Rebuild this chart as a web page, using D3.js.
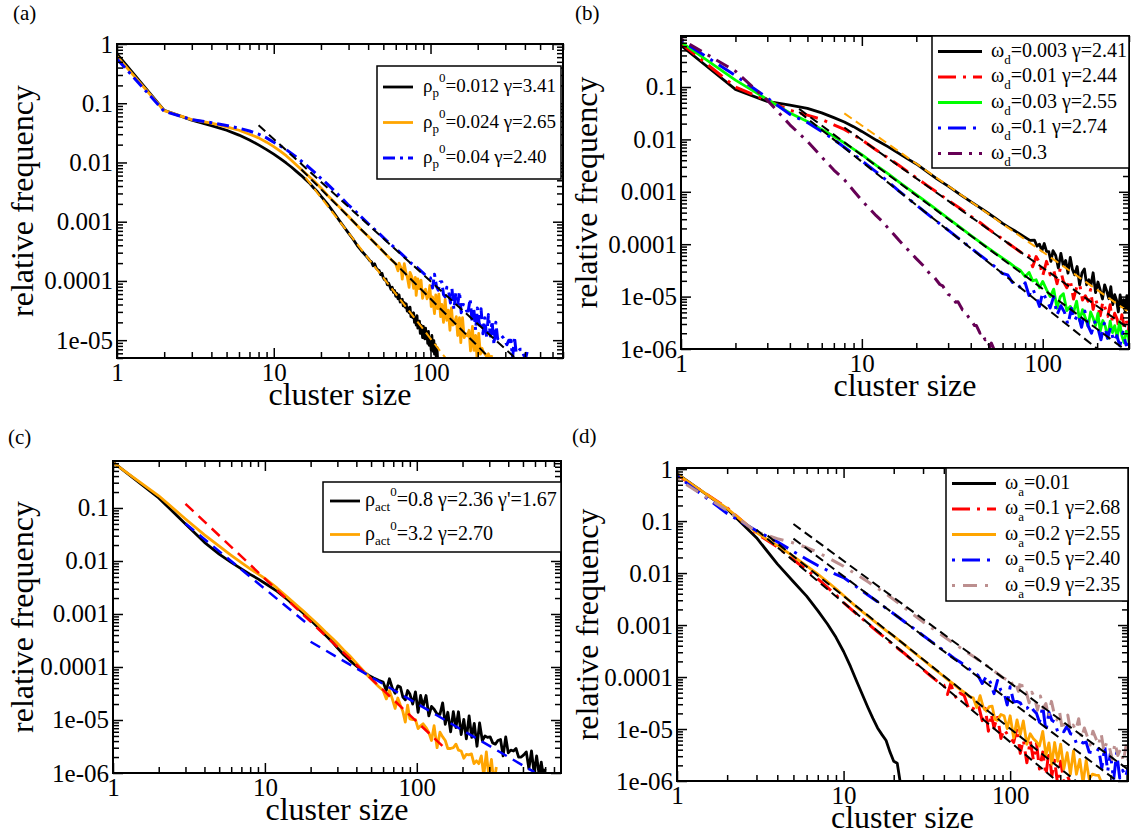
<!DOCTYPE html>
<html>
<head>
<meta charset="utf-8">
<script src="https://cdn.jsdelivr.net/npm/d3@7"></script>
<style>
  body { margin: 0; background: #fff; }
  svg { display: block; }
  svg text { font-family: 'Liberation Serif', 'Times New Roman', 'DejaVu Serif', serif; }
</style>
</head>
<body>
<svg id="fig" width="1132" height="837"></svg>
<script>
// ---------------- tick values and labels ----------------
const xTickValues = [1, 10, 100];
const xTickLabels = ["1", "10", "100"];
const yTicksTop1 = [1, 0.1, 0.01, 0.001, 0.0001, 0.00001];
const yLabelsTop1 = ["1", "0.1", "0.01", "0.001", "0.0001", "1e-05"];
const yTicksSix = [0.1, 0.01, 0.001, 0.0001, 0.00001, 0.000001];
const yLabelsSix = ["0.1", "0.01", "0.001", "0.0001", "1e-05", "1e-06"];
const yTicksSeven = [1, 0.1, 0.01, 0.001, 0.0001, 0.00001, 0.000001];
const yLabelsSeven = ["1", "0.1", "0.01", "0.001", "0.0001", "1e-05", "1e-06"];

// ---------------- (a) initial passive density ----------------
const rhoA = ["0.012", "0.024", "0.04"];
const gammaA = [3.41, 2.65, 2.40];
const aBlack = [[1,0.68],[2,0.076],[3,0.052],[4,0.042],[5,0.035],[6,0.029],[7,0.024],[8,0.0198],[9,0.0165],[10,0.0138],[11,0.0116],[12,0.0098],[13,0.0083],[14,0.0070],[15,0.0060],[16,0.0051],[17,0.0044],[18,0.0037],[19,0.0032],[20,0.0027],[22,0.0020],[24,0.00146],[26,0.00108],[28,0.00082],[30,0.00064],[32,0.00051],[34,0.00040],[36,0.00033],[38,0.00028],[40,0.00024],[41,0.00022],[42,0.00021],[43,0.00018],[44,0.000195],[45,0.000165],[46,0.000155],[47,0.00015],[48,0.000128],[49,0.000135],[50,0.000112],[51,0.000104],[52,0.000108],[53,0.000086],[54,0.000092],[55,0.000081],[56,0.000072],[57,0.000078],[58,0.000064],[59,0.000069],[60,0.000055],[61,0.000062],[62,0.000050],[63,0.000058],[64,0.000044],[65,0.000047],[66,0.000049],[67,0.000038],[68,0.000043],[69,0.000036],[70,0.000041],[71,0.000031],[72,0.000035],[73,0.000029],[74,0.000036],[75,0.000025],[76,0.000028],[77,0.000024],[78,0.000029],[79,0.000020],[80,0.000024],[81,0.000018],[82,0.000026],[83,0.000016],[84,0.000019],[85,0.000021],[86,0.000013],[87,0.000018],[88,0.000015],[89,0.000011],[90,0.000017],[91,0.000013],[92,0.0000105],[93,0.000016],[94,0.000011],[95,0.0000125],[96,0.0000088],[97,0.000014],[98,0.0000082],[99,0.000011],[100,0.0000095],[101,0.0000068],[102,0.000012],[103,0.0000078],[104,0.0000065],[105,0.0000098],[106,0.0000058],[107,0.0000085],[108,0.0000062],[109,0.0000050],[110,0.0000075],[111,0.0000046]];
const aOrange = [[1,0.62],[2,0.075],[3,0.053],[4,0.046],[5,0.040],[6,0.035],[7,0.030],[8,0.026],[9,0.022],[10,0.0185],[11,0.0155],[12,0.0130],[13,0.0108],[14,0.0090],[15,0.0076],[16,0.0065],[18,0.0049],[20,0.0037],[22,0.0028],[25,0.0020],[28,0.00148],[30,0.00122],[33,0.00094],[36,0.00074],[40,0.00057],[44,0.00044],[48,0.00035],[52,0.00028],[56,0.00023],[60,0.000195],[62,0.000148],[63,0.0002],[65,0.000162],[66,0.000107],[68,0.000195],[70,0.00013],[71,0.000119],[73,0.000078],[74,0.00014],[76,0.000118],[78,0.000075],[80,0.000115],[81,0.000057],[83,0.000108],[85,0.000074],[87,0.000103],[89,0.000051],[91,0.0000675],[93,0.0000725],[95,0.00005],[97,0.000057],[99,0.000084],[101,0.000037],[103,0.000054],[106,0.000028],[108,0.000058],[111,0.000034],[113,0.00006],[116,0.000025],[118,0.00004],[121,0.00002],[124,0.000049],[127,0.0000216],[130,0.000032],[133,0.0000147],[136,0.000035],[139,0.000018],[142,0.000019],[146,0.000025],[149,0.000012],[153,0.000024],[156,0.0000091],[160,0.000024],[164,0.000011],[168,0.0000128],[172,0.0000118],[176,0.0000147],[180,0.0000066],[185,0.000017],[189,0.0000067],[194,0.000012],[198,0.0000048],[203,0.000013],[208,0.0000058],[213,0.0000073],[218,0.0000062],[223,0.0000058],[229,0.0000052],[234,0.0000059],[240,0.0000044],[246,0.0000056]];
const aBlue = [[1,0.56],[2,0.073],[3,0.053],[4,0.047],[5,0.042],[6,0.038],[7,0.034],[8,0.030],[9,0.026],[10,0.022],[12,0.0165],[14,0.0122],[16,0.0092],[18,0.0070],[20,0.0054],[22,0.0043],[25,0.0031],[28,0.0023],[30,0.0019],[33,0.00152],[36,0.00122],[40,0.00093],[44,0.00074],[48,0.00060],[52,0.00049],[56,0.00041],[60,0.00035],[65,0.00029],[70,0.00024],[75,0.00020],[80,0.00018],[85,0.000155],[90,0.000135],[95,0.000118],[100,0.000112],[103,0.000076],[106,0.00013],[109,0.000082],[112,0.00007],[115,0.000096],[118,0.000097],[121,0.000059],[124,0.000054],[127,0.000078],[130,0.000072],[134,0.0000425],[137,0.000074],[141,0.000033],[145,0.000063],[149,0.000039],[153,0.000066],[157,0.000029],[161,0.00004],[165,0.000039],[170,0.000031],[174,0.000031],[179,0.00005],[184,0.000021],[189,0.000033],[194,0.0000147],[199,0.000035],[205,0.000018],[210,0.000034],[216,0.0000128],[222,0.000024],[228,0.000011],[234,0.000027],[241,0.0000117],[247,0.000021],[254,0.0000084],[261,0.00002],[268,0.0000105],[276,0.000012],[283,0.000012],[291,0.000011],[299,0.0000094],[307,0.0000084],[316,0.00001],[325,0.00001],[334,0.0000051],[343,0.0000114],[352,0.0000061],[362,0.0000065],[372,0.000007],[382,0.000007],[393,0.0000056],[404,0.0000049],[415,0.0000066],[425,0.0000062]];
const fitA = [
  { gamma: gammaA[0], x0: 16, y0: 0.0055, x1: 126 },
  { gamma: gammaA[1], x0: 15, y0: 0.0076, x1: 245 },
  { gamma: gammaA[2], x0: 8, y0: 0.0425, x1: 360 }
];

// ---------------- (b) deactivation rate ----------------
const omegaB = ["0.003", "0.01", "0.03", "0.1", "0.3"];
const gammaB = [2.41, 2.44, 2.55, 2.74];
const bBlack = [[1,0.62],[2,0.09],[3,0.053],[4,0.045],[5,0.039],[6,0.032],[7,0.026],[8,0.0215],[9,0.0175],[10,0.0142],[12,0.0097],[14,0.0072],[16,0.0054],[18,0.0042],[20,0.0034],[23,0.0024],[26,0.00177],[30,0.00128],[35,0.00088],[40,0.00065],[45,0.00050],[50,0.00039],[55,0.00031],[60,0.00025],[65,0.00021],[70,0.00018],[75,0.000155],[80,0.000135],[85,0.000118],[90,0.00012],[93,0.000092],[96,0.0001],[99,0.000075],[102,0.000103],[105,0.000073],[108,0.000072],[111,0.000047],[114,0.000075],[118,0.000061],[122,0.000035],[126,0.000067],[130,0.000039],[134,0.000049],[138,0.000028],[142,0.000056],[146,0.000033],[150,0.000026],[155,0.0000375],[160,0.0000167],[165,0.0000284],[170,0.0000336],[175,0.0000168],[180,0.0000209],[185,0.0000167],[190,0.0000285],[196,0.0000119],[202,0.000019],[208,0.0000133],[214,0.000009],[220,0.0000168],[226,0.0000127],[232,0.0000091],[238,0.0000155],[244,0.000007],[250,0.0000109],[256,0.0000085],[262,0.0000051],[268,0.0000108],[274,0.0000065],[280,0.0000087],[286,0.0000051],[292,0.0000104],[298,0.0000056],[300,0.000008]];
const bRed = [[1,0.68],[2,0.1],[3,0.055],[4,0.036],[5,0.029],[6,0.024],[7,0.019],[8,0.0155],[9,0.0122],[10,0.0098],[12,0.0063],[14,0.0044],[16,0.0032],[18,0.0024],[20,0.00185],[23,0.00131],[26,0.00098],[30,0.00069],[35,0.00048],[40,0.00034],[45,0.00026],[50,0.000196],[55,0.000155],[60,0.000125],[65,0.000102],[70,0.000085],[75,0.000072],[80,0.000061],[84,0.00006],[88,0.000037],[92,0.000058],[96,0.000045],[100,0.000025],[105,0.000047],[110,0.000026],[115,0.000032],[120,0.0000176],[125,0.000034],[130,0.0000196],[136,0.0000148],[142,0.0000208],[148,0.000009],[154,0.000015],[160,0.0000174],[166,0.0000086],[172,0.0000104],[178,0.0000082],[184,0.0000137],[190,0.0000057],[196,0.0000091],[202,0.0000063],[208,0.0000043],[215,0.0000079],[222,0.0000059],[229,0.0000042],[236,0.000007],[243,0.0000031],[250,0.0000048],[258,0.0000037],[266,0.0000022],[274,0.0000045],[282,0.00000265],[290,0.0000035],[298,0.00000205],[300,0.000003]];
const bGreen = [[1,0.72],[2,0.135],[3,0.058],[4,0.032],[5,0.022],[6,0.0155],[7,0.0115],[8,0.0086],[9,0.0065],[10,0.0051],[12,0.0032],[14,0.0022],[16,0.00155],[18,0.00115],[20,0.00088],[23,0.00062],[26,0.00045],[30,0.00031],[35,0.00021],[40,0.000148],[45,0.000110],[50,0.000084],[55,0.000067],[60,0.000054],[65,0.000045],[70,0.000037],[75,0.000032],[80,0.000024],[84,0.000029],[88,0.00002],[92,0.000021],[96,0.0000148],[100,0.0000195],[105,0.0000136],[110,0.00001],[115,0.0000139],[120,0.000006],[125,0.0000099],[130,0.0000114],[136,0.0000054],[142,0.0000065],[148,0.000005],[154,0.0000082],[160,0.0000035],[166,0.00000565],[172,0.00000395],[178,0.0000027],[184,0.0000051],[190,0.0000039],[196,0.0000028],[202,0.0000048],[208,0.0000022],[215,0.0000035],[222,0.0000027],[229,0.0000016],[236,0.0000034],[243,0.00000206],[250,0.0000028],[258,0.00000164],[266,0.0000033],[274,0.00000178],[282,0.00000131],[290,0.0000022],[298,0.0000017],[300,0.0000013]];
const bBlue = [[1,0.78],[2,0.165],[3,0.062],[4,0.030],[5,0.021],[6,0.0142],[7,0.0099],[8,0.0071],[9,0.0052],[10,0.0039],[12,0.0024],[14,0.00155],[16,0.00104],[18,0.00075],[20,0.00056],[23,0.00038],[26,0.00027],[30,0.000186],[35,0.000122],[40,0.000085],[45,0.000062],[50,0.000047],[55,0.000036],[60,0.0000275],[64,0.000026],[68,0.0000186],[72,0.0000184],[76,0.0000139],[80,0.0000183],[84,0.0000105],[88,0.0000143],[92,0.0000098],[96,0.0000065],[100,0.000012],[105,0.0000087],[110,0.0000061],[115,0.00001],[120,0.0000045],[126,0.0000067],[132,0.000005],[138,0.0000029],[144,0.000006],[150,0.0000035],[157,0.0000046],[164,0.0000026],[171,0.0000053],[178,0.0000028],[186,0.000002],[194,0.0000033],[202,0.0000025],[210,0.0000015],[219,0.0000031],[228,0.0000016],[237,0.0000025],[247,0.0000014],[257,0.0000018],[267,0.00000115],[278,0.0000021],[289,0.0000012],[300,0.00000125]];
const bPurple = [[1,0.82],[2,0.2],[3,0.056],[4,0.019],[5,0.0092],[6,0.0046],[7,0.0026],[8,0.0017],[9,0.00105],[10,0.00068],[11,0.00048],[12,0.00035],[13,0.00027],[14,0.00020],[15,0.000155],[16,0.00012],[18,0.000078],[20,0.000053],[22,0.000038],[24,0.000026],[25,0.000024],[27,0.000017],[28,0.000016],[30,0.000011],[31,0.0000105],[33,0.0000078],[34,0.0000080],[36,0.0000056],[37,0.0000054],[39,0.0000040],[40,0.0000036],[42,0.0000028],[43,0.0000028],[45,0.0000020],[46,0.0000021],[48,0.0000015],[49,0.0000016],[51,0.0000011],[52,0.0000013],[54,0.00000095]];
const fitB = [
  { gamma: gammaB[0], x0: 8, y0: 0.0314, x1: 300 },
  { gamma: gammaB[1], x0: 8, y0: 0.0169, x1: 300 },
  { gamma: gammaB[2], x0: 4.5, y0: 0.0382, x1: 300 },
  { gamma: gammaB[3], x0: 4.5, y0: 0.0333, x1: 250 }
];

// ---------------- (c) initial active density ----------------
const rhoC = ["0.8", "3.2"];
const gammaC = [2.36, 2.70];
const gammaPrimeC = 1.67;
const cBlack = [[1,0.73],[2,0.155],[3,0.05],[4,0.0225],[5,0.0135],[6,0.0094],[7,0.0071],[8,0.0056],[9,0.0046],[10,0.0038],[12,0.0027],[14,0.0019],[16,0.00138],[18,0.00102],[20,0.00077],[22,0.00059],[25,0.00040],[28,0.00029],[30,0.00023],[33,0.00017],[36,0.000135],[40,0.000105],[44,0.000084],[48,0.000070],[52,0.000062],[56,0.000056],[60,0.000052],[63,0.000036],[66,0.00006],[69,0.00004],[72,0.000032],[75,0.000044],[78,0.000042],[81,0.000027],[84,0.000024],[87,0.000036],[90,0.000031],[94,0.00002],[98,0.000034],[102,0.000014],[106,0.000029],[110,0.000018],[115,0.000029],[120,0.000012],[125,0.000018],[130,0.000016],[136,0.000013],[142,0.0000127],[148,0.000021],[154,0.0000083],[160,0.000014],[167,0.000006],[174,0.0000144],[181,0.0000072],[188,0.0000143],[196,0.0000053],[204,0.0000103],[212,0.0000044],[221,0.0000119],[230,0.0000047],[239,0.0000086],[249,0.0000032],[259,0.0000088],[270,0.0000041],[281,0.000005],[292,0.0000047],[304,0.0000048],[316,0.0000037],[329,0.0000035],[342,0.0000041],[356,0.0000043],[370,0.0000021],[385,0.0000048],[400,0.0000024],[416,0.0000027],[433,0.0000026],[450,0.0000029],[468,0.000002],[487,0.000002],[506,0.0000022],[526,0.0000025],[547,0.0000012],[569,0.0000026],[592,0.000001],[615,0.0000021],[640,0.0000009],[660,0.0000016],[680,0.0000009],[700,0.0000012]];
const cOrange = [[1,0.72],[2,0.17],[3,0.062],[4,0.031],[5,0.019],[6,0.0128],[7,0.0093],[8,0.0071],[9,0.0057],[10,0.0047],[12,0.0031],[14,0.0021],[16,0.0015],[18,0.00112],[20,0.00085],[22,0.00066],[25,0.00046],[28,0.00034],[30,0.00028],[33,0.00021],[36,0.000165],[40,0.000118],[44,0.000088],[48,0.000067],[52,0.000053],[56,0.000043],[60,0.000036],[63,0.000025],[66,0.000036],[69,0.000025],[72,0.0000165],[75,0.000026],[78,0.000019],[81,0.0000144],[84,0.0000091],[87,0.000019],[90,0.0000105],[94,0.0000102],[98,0.0000102],[102,0.0000069],[106,0.0000078],[110,0.0000085],[115,0.0000072],[120,0.0000058],[125,0.0000041],[130,0.0000078],[136,0.000003],[142,0.0000059],[148,0.0000048],[154,0.0000041],[160,0.0000029],[167,0.0000029],[174,0.000003],[181,0.0000035],[188,0.0000027],[196,0.0000026],[204,0.0000019],[212,0.00000225],[220,0.0000022],[229,0.0000023],[238,0.0000015],[247,0.0000017],[256,0.0000015],[266,0.0000021],[276,0.00000088],[287,0.0000025],[298,0.00000085],[310,0.0000018],[322,0.00000063],[334,0.0000013]];
const fitC = [
  { gamma: gammaC[1], x0: 3, y0: 0.12, x1: 150 },
  { gamma: gammaC[0], x0: 3, y0: 0.051, x1: 20 },
  { gamma: gammaPrimeC, x0: 20, y0: 0.0003, x1: 600 }
];

// ---------------- (d) activation rate ----------------
const omegaD = ["0.01", "0.1", "0.2", "0.5", "0.9"];
const gammaD = [2.68, 2.55, 2.40, 2.35];
const dBlack = [[1,0.82],[2,0.17],[3,0.048],[4,0.015],[5,0.0068],[6,0.0036],[7,0.0019],[8,0.00105],[9,0.00058],[10,0.00031],[11,0.00016],[12,0.000082],[13,0.000045],[14,0.000026],[15,0.000016],[16,0.0000105],[17,0.0000078],[18,0.0000060],[19,0.0000036],[20,0.0000024],[21,0.0000022],[22,0.00000085]];
const dRed = [[1,0.78],[2,0.18],[3,0.058],[4,0.032],[5,0.018],[6,0.0115],[7,0.0077],[8,0.0053],[9,0.0038],[10,0.0027],[12,0.00163],[14,0.00107],[16,0.00074],[18,0.00055],[20,0.00041],[23,0.00029],[26,0.000205],[30,0.000140],[33,0.000108],[36,0.000086],[40,0.00007],[42,0.000046],[44,0.000075],[46,0.000047],[48,0.0000375],[50,0.000049],[53,0.000044],[56,0.000026],[59,0.000022],[62,0.00003],[65,0.000026],[68,0.0000145],[71,0.000025],[74,0.0000091],[77,0.0000195],[80,0.0000105],[84,0.000018],[88,0.0000066],[92,0.0000099],[96,0.000008],[100,0.0000069],[105,0.0000055],[110,0.0000105],[115,0.0000034],[120,0.0000062],[126,0.00000224],[132,0.000006],[138,0.0000025],[144,0.0000053],[150,0.0000017],[157,0.0000036],[164,0.0000013],[171,0.0000038],[178,0.00000126],[185,0.0000025],[193,0.00000084],[201,0.0000024],[210,0.000001],[220,0.0000013],[230,0.0000009]];
const dOrange = [[1,0.80],[2,0.175],[3,0.06],[4,0.034],[5,0.021],[6,0.0138],[7,0.0095],[8,0.0068],[9,0.0050],[10,0.0037],[12,0.0022],[14,0.00148],[16,0.00105],[18,0.00078],[20,0.00061],[23,0.00043],[26,0.00031],[30,0.000215],[34,0.000155],[38,0.000117],[42,0.000090],[46,0.000072],[50,0.000058],[54,0.000049],[57,0.000042],[60,0.00004],[63,0.000026],[66,0.000044],[69,0.000026],[72,0.000022],[75,0.000027],[78,0.0000275],[81,0.0000153],[84,0.0000147],[88,0.000019],[92,0.000018],[96,0.0000102],[100,0.000018],[105,0.0000067],[110,0.000015],[115,0.0000078],[120,0.0000143],[126,0.0000051],[132,0.0000081],[138,0.0000065],[144,0.0000057],[150,0.0000047],[157,0.000009],[164,0.0000031],[171,0.0000054],[178,0.0000021],[185,0.0000055],[193,0.0000024],[201,0.0000051],[210,0.0000017],[220,0.0000035],[230,0.00000135],[240,0.0000038],[250,0.00000135],[262,0.0000026],[274,0.00000091],[286,0.0000025],[298,0.0000011],[312,0.00000136],[326,0.0000013],[340,0.00000128],[355,0.0000009]];
const dBlue = [[1,0.74],[2,0.14],[3,0.065],[4,0.040],[5,0.026],[6,0.0185],[7,0.0140],[8,0.0113],[9,0.0094],[10,0.0082],[12,0.0054],[14,0.0038],[16,0.0028],[18,0.0021],[20,0.00165],[23,0.00118],[26,0.00089],[30,0.00063],[34,0.00047],[38,0.00036],[42,0.00029],[46,0.00023],[50,0.000195],[55,0.000155],[60,0.000125],[64,0.000108],[68,0.000075],[72,0.000103],[76,0.00008],[80,0.000048],[84,0.000086],[88,0.000055],[92,0.00005],[96,0.000029],[100,0.000065],[105,0.000033],[110,0.000034],[115,0.000032],[120,0.0000245],[126,0.000025],[132,0.000029],[138,0.000023],[144,0.00002],[150,0.0000135],[157,0.0000275],[164,0.000009],[171,0.000021],[178,0.0000147],[185,0.0000136],[193,0.0000088],[201,0.0000098],[210,0.0000089],[220,0.0000114],[230,0.0000081],[240,0.0000078],[250,0.00000525],[262,0.0000059],[274,0.0000054],[286,0.0000056],[298,0.0000036],[312,0.0000035],[326,0.0000034],[340,0.0000042],[355,0.00000176],[370,0.00000455],[385,0.00000153],[400,0.00000345],[418,0.00000105],[436,0.0000035],[455,0.00000114],[474,0.0000016],[494,0.0000012],[510,0.0000018]];
const dRosy = [[1,0.66],[2,0.16],[3,0.062],[4,0.046],[5,0.038],[6,0.031],[7,0.025],[8,0.020],[9,0.0162],[10,0.0135],[12,0.0093],[14,0.0068],[16,0.0051],[18,0.0040],[20,0.0031],[23,0.0022],[26,0.00163],[30,0.00115],[34,0.00087],[38,0.00068],[42,0.00054],[46,0.00044],[50,0.00037],[55,0.00030],[60,0.00025],[65,0.00021],[70,0.000178],[75,0.000152],[80,0.000130],[85,0.000113],[90,0.000098],[95,0.000090],[100,0.000094],[104,0.000066],[108,0.000075],[112,0.000053],[116,0.000088],[120,0.00005],[125,0.000051],[130,0.000032],[135,0.000051],[140,0.000041],[146,0.000023],[152,0.000043],[158,0.000025],[164,0.000031],[170,0.0000173],[177,0.000034],[184,0.0000195],[191,0.000015],[198,0.0000215],[206,0.0000094],[214,0.0000158],[222,0.0000185],[230,0.0000095],[239,0.0000119],[248,0.0000094],[258,0.0000158],[268,0.0000066],[279,0.0000105],[290,0.0000073],[302,0.0000049],[314,0.0000091],[326,0.0000068],[339,0.0000049],[352,0.0000082],[366,0.0000037],[380,0.0000056],[395,0.0000044],[410,0.0000026],[426,0.0000054],[443,0.0000031],[460,0.0000041],[478,0.0000024],[496,0.0000047],[510,0.0000025]];
const fitD = [
  { gamma: gammaD[0], x0: 3, y0: 0.068, x1: 220 },
  { gamma: gammaD[1], x0: 3.5, y0: 0.0525, x1: 280 },
  { gamma: gammaD[2], x0: 5, y0: 0.046, x1: 500 },
  { gamma: gammaD[3], x0: 5, y0: 0.0877, x1: 510 }
];

// ---------------- drawing ----------------
const svg = d3.select("#fig");
const defs = svg.append("defs");
svg.append("rect").attr("width", 1132).attr("height", 837).attr("fill", "#fff");

const g2 = v => v.toFixed(2);
const COL = { black: "#000000", orange: "#ffa500", blue: "#0000ff", red: "#ff0000",
              green: "#00ff00", purple: "#660055", rosy: "#bc8f8f" };
const DASHDOT = "18,7,3,7", DOTDASH = "3,7,18,7", FITDASH = "9,5";
const LW = 2.8;

function minorTicks(domain) {
  const out = [];
  const lo = Math.floor(Math.log10(domain[0])), hi = Math.ceil(Math.log10(domain[1]));
  for (let e = lo; e <= hi; e++) {
    for (let m = 2; m <= 9; m++) {
      const v = m * Math.pow(10, e);
      if (v >= domain[0] * 0.999 && v <= domain[1] * 1.001) out.push(v);
    }
  }
  return out;
}

// label made of runs: plain text, subscript and superscript
function richText(sel, runs, size, small) {
  let shift = 0;
  runs.forEach(r => {
    const target = r[1] ? r[2] : 0;
    sel.append("tspan")
      .attr("dy", target - shift)
      .style("font-size", (r[1] ? small : size) + "px")
      .text(r[0]);
    shift = target;
  });
}

function drawPanel(cfg) {
  const { l, r, t, b } = cfg.box;
  const g = svg.append("g");
  const x = d3.scaleLog().domain(cfg.xDomain).range([l, r]);
  const y = d3.scaleLog().domain(cfg.yDomain).range([b, t]);

  const clipId = "clip-" + cfg.id;
  defs.append("clipPath").attr("id", clipId).append("rect")
    .attr("x", l).attr("y", t).attr("width", r - l).attr("height", b - t);
  const plot = g.append("g").attr("clip-path", `url(#${clipId})`);
  const line = d3.line().x(d => x(d[0])).y(d => y(d[1]));

  cfg.series.forEach(s => {
    plot.append("path").datum(s.data)
      .attr("d", line).attr("fill", "none")
      .attr("stroke", s.color).attr("stroke-width", s.width || LW)
      .attr("stroke-dasharray", s.dash || null)
      .attr("stroke-linejoin", "round");
  });
  cfg.fits.forEach(f => {
    const pts = [[f.x0, f.y0], [f.x1, f.y0 * Math.pow(f.x1 / f.x0, -f.gamma)]];
    plot.append("path").datum(pts)
      .attr("d", line).attr("fill", "none")
      .attr("stroke", f.color).attr("stroke-width", f.width || 2)
      .attr("stroke-dasharray", f.dash || FITDASH);
  });

  // ticks on all four sides, pointing inward
  const xMinor = minorTicks(cfg.xDomain), yMinor = minorTicks(cfg.yDomain);
  const axes = [
    [d3.axisBottom(x).tickValues(cfg.xTicks).tickSize(-10).tickPadding(5).tickFormat((d, i) => xTickLabels[i]), 0, b],
    [d3.axisBottom(x).tickValues(xMinor).tickSize(-6).tickFormat(""), 0, b],
    [d3.axisTop(x).tickValues(cfg.xTicks).tickSize(-10).tickFormat(""), 0, t],
    [d3.axisTop(x).tickValues(xMinor).tickSize(-6).tickFormat(""), 0, t],
    [d3.axisLeft(y).tickValues(cfg.yTicks).tickSize(-10).tickPadding(4).tickFormat((d, i) => cfg.yLabels[i]), l, 0],
    [d3.axisLeft(y).tickValues(yMinor).tickSize(-6).tickFormat(""), l, 0],
    [d3.axisRight(y).tickValues(cfg.yTicks).tickSize(-10).tickFormat(""), r, 0],
    [d3.axisRight(y).tickValues(yMinor).tickSize(-6).tickFormat(""), r, 0]
  ];
  axes.forEach(([gen, tx, ty]) => {
    const a = g.append("g").attr("transform", `translate(${tx},${ty})`).call(gen);
    a.select(".domain").remove();
    a.attr("font-family", null).attr("font-size", null);
    a.selectAll(".tick line").attr("stroke", "#000").attr("stroke-width", 1.5);
    a.selectAll(".tick text").attr("fill", "#000").style("font-size", "25px");
  });

  g.append("rect").attr("x", l).attr("y", t).attr("width", r - l).attr("height", b - t)
    .attr("fill", "none").attr("stroke", "#000").attr("stroke-width", 2);

  // axis titles and panel tag
  g.append("text").attr("x", (l + r) / 2).attr("y", b + 47)
    .attr("text-anchor", "middle").style("font-size", "32px")
    .text("cluster size");
  g.append("text")
    .attr("transform", `translate(${cfg.titleX},${(t + b) / 2}) rotate(-90)`)
    .attr("text-anchor", "middle").style("font-size", "32px")
    .text("relative frequency");
  g.append("text").attr("x", cfg.tag[1]).attr("y", cfg.tag[2])
    .style("font-size", "21px").text(cfg.tag[0]);

  // legend
  const L = cfg.legend;
  g.append("rect").attr("x", L.box[0]).attr("y", L.box[1])
    .attr("width", L.box[2] - L.box[0]).attr("height", L.box[3] - L.box[1])
    .attr("fill", "#fff").attr("stroke", "#000").attr("stroke-width", 1.5);
  L.entries.forEach((e, i) => {
    const yy = L.rows[i];
    g.append("line").attr("x1", L.sx[0]).attr("x2", L.sx[1]).attr("y1", yy).attr("y2", yy)
      .attr("stroke", e.color).attr("stroke-width", e.width || LW)
      .attr("stroke-dasharray", e.dash || null);
    const tx = g.append("text").attr("x", L.tx).attr("y", yy + 5);
    richText(tx, e.label, L.font, 13);
  });
}

const rhoLabel = (sub, val, tail) => [["ρ"], [sub, "sub", 5], ["0", "sup", -10], ["=" + val + tail]];
const omegaLabel = (sub, val, tail) => [["ω"], [sub, "sub", 7], ["=" + val + tail]];

const aStyles = [
  { data: aBlack, color: COL.black },
  { data: aOrange, color: COL.orange },
  { data: aBlue, color: COL.blue, dash: "12,5,3,5", width: 3 }
];
const bStyles = [
  { data: bBlack, color: COL.black },
  { data: bRed, color: COL.red, dash: DASHDOT, width: 3 },
  { data: bGreen, color: COL.green },
  { data: bBlue, color: COL.blue, dash: DOTDASH, width: 3 },
  { data: bPurple, color: COL.purple, dash: "3,7,14,7", width: 3 }
];
const cStyles = [
  { data: cBlack, color: COL.black },
  { data: cOrange, color: COL.orange }
];
const dStyles = [
  { data: dBlack, color: COL.black },
  { data: dRed, color: COL.red, dash: DASHDOT, width: 3 },
  { data: dOrange, color: COL.orange },
  { data: dBlue, color: COL.blue, dash: DOTDASH, width: 3 },
  { data: dRosy, color: COL.rosy, dash: "3,8,14,8", width: 3 }
];

const panels = [
  {
    id: "a", tag: ["(a)", 13, 20],
    box: { l: 117, r: 563, t: 44, b: 358 }, xDomain: [1, 700], yDomain: [5e-6, 1],
    xTicks: xTickValues, yTicks: yTicksTop1, yLabels: yLabelsTop1, titleX: 33,
    series: aStyles,
    fits: [
      Object.assign({ color: COL.orange }, fitA[0]),
      Object.assign({ color: COL.black }, fitA[1]),
      Object.assign({ color: COL.black }, fitA[2])
    ],
    legend: {
      box: [377, 66, 561, 179], rows: [87, 122.5, 158], sx: [383, 413], tx: 423, font: 19,
      entries: aStyles.map((s, i) => Object.assign({}, s, { label: rhoLabel("p", rhoA[i], " γ=" + g2(gammaA[i])) }))
    }
  },
  {
    id: "b", tag: ["(b)", 575, 20],
    box: { l: 681, r: 1129, t: 36, b: 349 }, xDomain: [1, 300], yDomain: [1e-6, 0.94],
    xTicks: xTickValues, yTicks: yTicksSix, yLabels: yLabelsSix, titleX: 597,
    series: bStyles,
    fits: [
      Object.assign({ color: COL.orange }, fitB[0]),
      Object.assign({ color: COL.black }, fitB[1]),
      Object.assign({ color: COL.black }, fitB[2]),
      Object.assign({ color: COL.black }, fitB[3])
    ],
    legend: {
      box: [932, 36, 1129, 168], rows: [51.5, 77, 102.5, 128, 153.5], sx: [938, 982], tx: 991, font: 20,
      entries: bStyles.map((s, i) => Object.assign({}, s, {
        label: omegaLabel("d", omegaB[i], i < gammaB.length ? " γ=" + g2(gammaB[i]) : "")
      }))
    }
  },
  {
    id: "c", tag: ["(c)", 8, 444],
    box: { l: 113, r: 561, t: 461, b: 773 }, xDomain: [1, 890], yDomain: [1e-6, 0.77],
    xTicks: xTickValues, yTicks: yTicksSix, yLabels: yLabelsSix, titleX: 33,
    series: cStyles,
    fits: [
      Object.assign({ color: COL.red, dash: "11,7", width: 2.5 }, fitC[0]),
      Object.assign({ color: COL.blue, dash: "11,7", width: 2.5 }, fitC[1]),
      Object.assign({ color: COL.blue, dash: "11,7", width: 2.5 }, fitC[2])
    ],
    legend: {
      box: [323, 482, 561, 552], rows: [501, 534.5], sx: [330, 360], tx: 365, font: 20,
      entries: [
        Object.assign({}, cStyles[0], { label: rhoLabel("act", rhoC[0], " γ=" + g2(gammaC[0]) + " γ'=" + g2(gammaPrimeC)) }),
        Object.assign({}, cStyles[1], { label: rhoLabel("act", rhoC[1], " γ=" + g2(gammaC[1])) })
      ]
    }
  },
  {
    id: "d", tag: ["(d)", 572, 443],
    box: { l: 677, r: 1128, t: 468, b: 781 }, xDomain: [1, 510], yDomain: [1e-6, 1.05],
    xTicks: xTickValues, yTicks: yTicksSeven, yLabels: yLabelsSeven, titleX: 598,
    series: dStyles,
    fits: fitD.map(f => Object.assign({ color: COL.black }, f)),
    legend: {
      box: [946, 468, 1128, 601], rows: [483.5, 509, 534.5, 560, 585.5], sx: [952, 996], tx: 1005, font: 20,
      entries: dStyles.map((s, i) => Object.assign({}, s, {
        label: omegaLabel("a", omegaD[i], i > 0 ? " γ=" + g2(gammaD[i - 1]) : "")
      }))
    }
  }
];

panels.forEach(drawPanel);
</script>
</body>
</html>
